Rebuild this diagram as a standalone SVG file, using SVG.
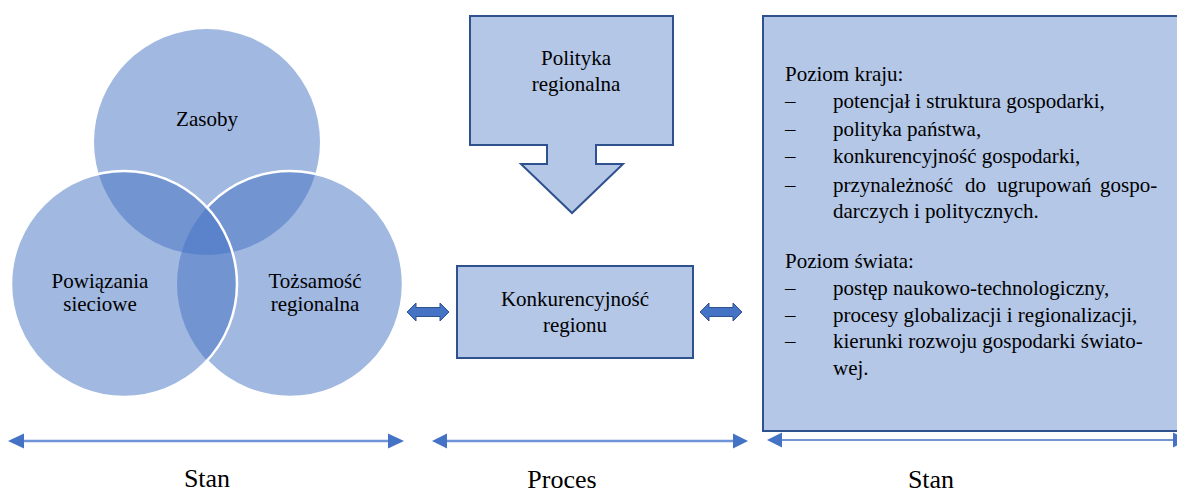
<svg xmlns="http://www.w3.org/2000/svg" width="1177" height="492" viewBox="0 0 1177 492" font-family="'Liberation Serif', serif">
<style>
text{font-family:'Liberation Serif','Times New Roman',serif;font-size:21px;fill:#000}
.c{text-anchor:middle}
.box{fill:#B4C7E7;stroke:#2F528F;stroke-width:2}
.venn{fill:#4472C4;fill-opacity:0.5}
.vstroke{fill:none;stroke:#fff;stroke-width:2.5}
.barrow{fill:#4472C4;stroke:#2F528F;stroke-width:1}
.lab{font-size:26px}
.line{stroke:#6F95D8;stroke-width:2.5}
.head{fill:#4472C4}
</style>
<defs>
<mask id="outLeft" maskUnits="userSpaceOnUse" x="0" y="0" width="1177" height="492">
<rect x="0" y="0" width="1177" height="492" fill="#fff"/>
<circle cx="124" cy="284" r="113" fill="#000"/>
</mask>
</defs>
<g id="venn">
<circle class="venn" cx="207" cy="142" r="113"/>
<circle class="venn" cx="290" cy="284" r="113"/>
<circle class="venn" cx="124" cy="284" r="113"/>
<circle class="vstroke" cx="290" cy="284" r="113" mask="url(#outLeft)"/>
<circle class="vstroke" cx="124" cy="284" r="113"/>
</g>
<g id="zasoby"><text class="c" x="207" y="126">Zasoby</text></g>
<g id="powiazania"><text class="c" x="100" y="288">Powiązania</text><text class="c" x="100" y="311">sieciowe</text></g>
<g id="tozsamosc"><text class="c" x="315" y="288">Tożsamość</text><text class="c" x="315" y="311">regionalna</text></g>
<g id="polityka">
<path class="box" d="M470,16 H673 V145 H596 V164 H623 L572,213 L521,164 H547 V145 H470 Z"/>
<text class="c" x="576" y="65">Polityka</text>
<text class="c" x="576" y="91">regionalna</text>
</g>
<g id="konkurencyjnosc">
<rect class="box" x="457" y="266" width="236" height="92"/>
<text class="c" x="575" y="306">Konkurencyjność</text>
<text class="c" x="575" y="332">regionu</text>
</g>
<g id="czynniki">
<rect class="box" x="763" y="16" width="430" height="415" stroke-width="2.5"/>
<text x="785" y="81">Poziom kraju:</text>
<text x="785" y="108">–</text><text x="833" y="108">potencjał i struktura gospodarki,</text>
<text x="785" y="136">–</text><text x="833" y="136">polityka państwa,</text>
<text x="785" y="163">–</text><text x="833" y="163">konkurencyjność gospodarki,</text>
<text x="785" y="192">–</text><text y="192"><tspan x="833">przynależność</tspan><tspan x="965">do</tspan><tspan x="997">ugrupowań</tspan><tspan x="1100">gospo-</tspan></text>
<text x="833" y="218">darczych i politycznych.</text>
<text x="785" y="268">Poziom świata:</text>
<text x="785" y="295">–</text><text x="833" y="295">postęp naukowo-technologiczny,</text>
<text x="785" y="322">–</text><text x="833" y="322">procesy globalizacji i regionalizacji,</text>
<text x="785" y="348">–</text><text x="833" y="348">kierunki rozwoju gospodarki świato-</text>
<text x="833" y="375">wej.</text>
</g>
<g id="connectors">
<polygon class="barrow" points="407,312 416,303 416,307.5 440,307.5 440,303 449,312 440,321 440,316.5 416,316.5 416,321"/>
<polygon class="barrow" points="700,312 709,303 709,307.5 733,307.5 733,303 742,312 733,321 733,316.5 709,316.5 709,321"/>
<line class="line" x1="20" y1="441" x2="392" y2="441"/>
<polygon class="head" points="8,441 24,433.5 24,448.5"/>
<polygon class="head" points="404,441 388,433.5 388,448.5"/>
<line class="line" x1="444" y1="441" x2="736" y2="441"/>
<polygon class="head" points="432,441 447,433.5 447,448.5"/>
<polygon class="head" points="748,441 733,433.5 733,448.5"/>
<line x1="778" y1="440" x2="1177" y2="440" stroke="#4472C4" stroke-width="1.5"/>
<polygon class="head" points="767,440 782,432.5 782,447.5"/>
<polygon class="head" points="1188,440 1173,432.5 1173,447.5"/>
</g>
<g id="labels">
<text class="c lab" x="207" y="487">Stan</text>
<text class="c lab" x="562" y="488">Proces</text>
<text class="c lab" x="931" y="488">Stan</text>
</g>
</svg>
